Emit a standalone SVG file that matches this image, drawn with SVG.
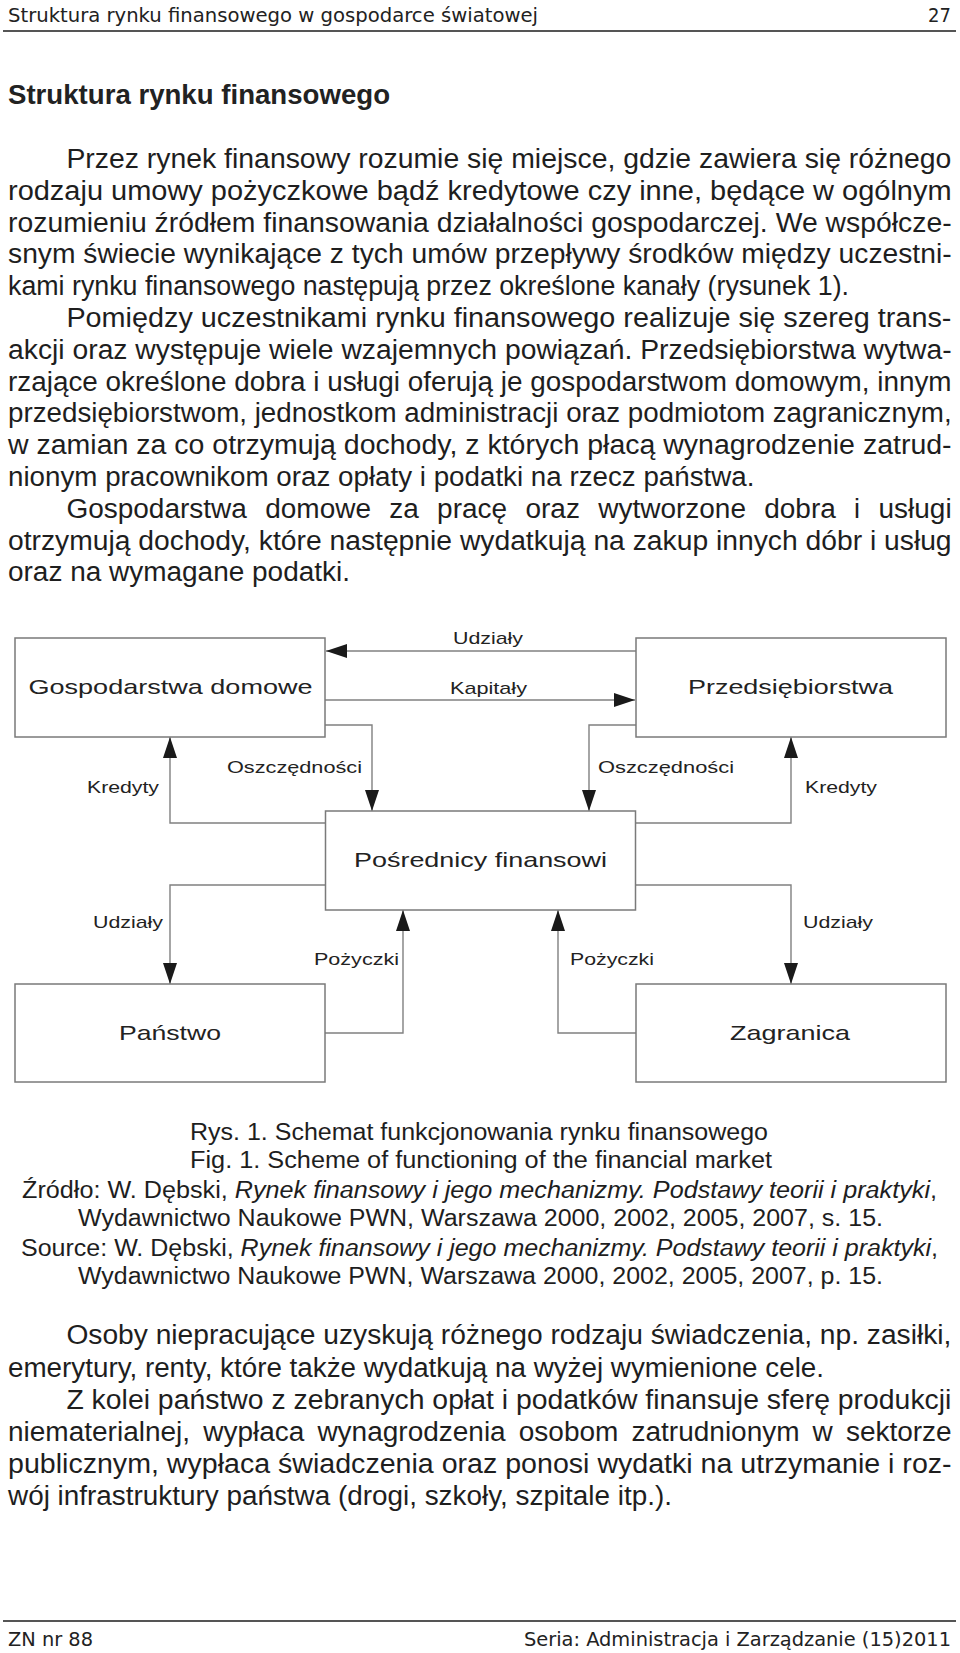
<svg xmlns="http://www.w3.org/2000/svg" width="960" height="1653" viewBox="0 0 960 1653">
<defs>
<style>
.hdr{font-family:"DejaVu Sans Condensed","DejaVu Sans",sans-serif;font-size:20px;fill:#222}
.h1{font-family:"Liberation Sans",Arial,sans-serif;font-weight:bold;font-size:27px;fill:#222}
.b{font-family:"Liberation Sans",Arial,sans-serif;font-size:27px;fill:#1e1e1e}
.cap{font-family:"Liberation Sans",Arial,sans-serif;font-size:23px;fill:#1e1e1e}
.box{fill:#fff;stroke:#7a7a7a;stroke-width:1.5}
.bl{font-family:"Liberation Sans",Arial,sans-serif;font-size:21px;fill:#222;text-anchor:middle}
.cl{font-family:"Liberation Sans",Arial,sans-serif;font-size:17px;fill:#222}
.con{fill:none;stroke:#808080;stroke-width:1.4}
</style>
<marker id="ah" markerUnits="userSpaceOnUse" markerWidth="21" markerHeight="14" refX="21" refY="7" orient="auto">
<path d="M0,0 L21,7 L0,14 z" fill="#1a1a1a"/>
</marker>
</defs>
<rect width="960" height="1653" fill="#fff"/>

<!-- header -->
<text class="hdr" x="8" y="22" textLength="530" lengthAdjust="spacingAndGlyphs">Struktura rynku finansowego w gospodarce światowej</text>
<text class="hdr" x="951" y="22" text-anchor="end">27</text>
<line x1="3" y1="31" x2="956" y2="31" stroke="#555" stroke-width="2"/>

<text class="h1" x="8" y="104" textLength="382" lengthAdjust="spacingAndGlyphs">Struktura rynku finansowego</text>

<!-- body 1 -->
<g id="body1">
<text class="b" x="66.4" y="168" textLength="885" lengthAdjust="spacingAndGlyphs">Przez rynek finansowy rozumie się miejsce, gdzie zawiera się różnego</text>
<text class="b" x="8" y="199.8" textLength="943.6" lengthAdjust="spacingAndGlyphs">rodzaju umowy pożyczkowe bądź kredytowe czy inne, będące w ogólnym</text>
<text class="b" x="8" y="231.6" textLength="943.6" lengthAdjust="spacingAndGlyphs">rozumieniu źródłem finansowania działalności gospodarczej. We współcze-</text>
<text class="b" x="8" y="263.4" textLength="943.6" lengthAdjust="spacingAndGlyphs">snym świecie wynikające z tych umów przepływy środków między uczestni-</text>
<text class="b" x="8" y="295.2" textLength="841" lengthAdjust="spacingAndGlyphs">kami rynku finansowego następują przez określone kanały (rysunek 1).</text>
<text class="b" x="66.4" y="327" textLength="885" lengthAdjust="spacingAndGlyphs">Pomiędzy uczestnikami rynku finansowego realizuje się szereg trans-</text>
<text class="b" x="8" y="358.8" textLength="943.6" lengthAdjust="spacingAndGlyphs">akcji oraz występuje wiele wzajemnych powiązań. Przedsiębiorstwa wytwa-</text>
<text class="b" x="8" y="390.6" textLength="943.6" lengthAdjust="spacingAndGlyphs">rzające określone dobra i usługi oferują je gospodarstwom domowym, innym</text>
<text class="b" x="8" y="422.4" textLength="943.6" lengthAdjust="spacingAndGlyphs">przedsiębiorstwom, jednostkom administracji oraz podmiotom zagranicznym,</text>
<text class="b" x="8" y="454.2" textLength="943.6" lengthAdjust="spacingAndGlyphs">w zamian za co otrzymują dochody, z których płacą wynagrodzenie zatrud-</text>
<text class="b" x="8" y="486" textLength="746.5" lengthAdjust="spacingAndGlyphs">nionym pracownikom oraz opłaty i podatki na rzecz państwa.</text>
<text class="b" y="517.8"><tspan x="66.4" textLength="180.5" lengthAdjust="spacingAndGlyphs">Gospodarstwa</tspan><tspan x="265.2" textLength="105.8" lengthAdjust="spacingAndGlyphs">domowe</tspan><tspan x="389.2" textLength="29.6" lengthAdjust="spacingAndGlyphs">za</tspan><tspan x="437.1" textLength="70" lengthAdjust="spacingAndGlyphs">pracę</tspan><tspan x="525.4" textLength="54.5" lengthAdjust="spacingAndGlyphs">oraz</tspan><tspan x="598.2" textLength="147.8" lengthAdjust="spacingAndGlyphs">wytworzone</tspan><tspan x="764.2" textLength="71.6" lengthAdjust="spacingAndGlyphs">dobra</tspan><tspan x="854.1">i</tspan><tspan x="878.5" textLength="73.1" lengthAdjust="spacingAndGlyphs">usługi</tspan></text>
<text class="b" x="8" y="549.6" textLength="943.6" lengthAdjust="spacingAndGlyphs">otrzymują dochody, które następnie wydatkują na zakup innych dóbr i usług</text>
<text class="b" x="8" y="581.4" textLength="342" lengthAdjust="spacingAndGlyphs">oraz na wymagane podatki.</text>
</g>

<!-- diagram connectors -->
<g id="connectors">
<polyline class="con" points="636,651 326,651" marker-end="url(#ah)"/>
<polyline class="con" points="325,700 635,700" marker-end="url(#ah)"/>
<polyline class="con" points="325,725 372,725 372,811" marker-end="url(#ah)"/>
<polyline class="con" points="325,823 170,823 170,737" marker-end="url(#ah)"/>
<polyline class="con" points="636,725 589,725 589,811" marker-end="url(#ah)"/>
<polyline class="con" points="636,823 791,823 791,737" marker-end="url(#ah)"/>
<polyline class="con" points="325,885 170,885 170,984" marker-end="url(#ah)"/>
<polyline class="con" points="325,1033 403,1033 403,910" marker-end="url(#ah)"/>
<polyline class="con" points="636,885 791,885 791,984" marker-end="url(#ah)"/>
<polyline class="con" points="636,1033 558,1033 558,910" marker-end="url(#ah)"/>
<text class="cl" x="453" y="644" textLength="70" lengthAdjust="spacingAndGlyphs">Udziały</text>
<text class="cl" x="450" y="694" textLength="77" lengthAdjust="spacingAndGlyphs">Kapitały</text>
<text class="cl" x="227" y="773" textLength="135" lengthAdjust="spacingAndGlyphs">Oszczędności</text>
<text class="cl" x="598" y="773" textLength="136" lengthAdjust="spacingAndGlyphs">Oszczędności</text>
<text class="cl" x="87" y="793" textLength="72" lengthAdjust="spacingAndGlyphs">Kredyty</text>
<text class="cl" x="805" y="793" textLength="72" lengthAdjust="spacingAndGlyphs">Kredyty</text>
<text class="cl" x="93" y="928" textLength="70" lengthAdjust="spacingAndGlyphs">Udziały</text>
<text class="cl" x="803" y="928" textLength="70" lengthAdjust="spacingAndGlyphs">Udziały</text>
<text class="cl" x="314" y="965" textLength="85" lengthAdjust="spacingAndGlyphs">Pożyczki</text>
<text class="cl" x="570" y="965" textLength="84" lengthAdjust="spacingAndGlyphs">Pożyczki</text>
</g>

<g id="gospodarstwa">
<rect class="box" x="15" y="638" width="310" height="99"/>
<text class="bl" x="170.5" y="694" textLength="284" lengthAdjust="spacingAndGlyphs">Gospodarstwa domowe</text>
</g>
<g id="przedsiebiorstwa">
<rect class="box" x="636" y="638" width="310" height="99"/>
<text class="bl" x="790.5" y="694" textLength="205" lengthAdjust="spacingAndGlyphs">Przedsiębiorstwa</text>
</g>
<g id="posrednicy">
<rect class="box" x="325.5" y="811" width="310" height="99"/>
<text class="bl" x="480.5" y="867" textLength="253" lengthAdjust="spacingAndGlyphs">Pośrednicy finansowi</text>
</g>
<g id="panstwo">
<rect class="box" x="15" y="984" width="310" height="98"/>
<text class="bl" x="170" y="1040" textLength="102" lengthAdjust="spacingAndGlyphs">Państwo</text>
</g>
<g id="zagranica">
<rect class="box" x="636" y="984" width="310" height="98"/>
<text class="bl" x="790" y="1040" textLength="120" lengthAdjust="spacingAndGlyphs">Zagranica</text>
</g>

<!-- captions -->
<g id="caption">
<text class="cap" x="190" y="1140" textLength="578" lengthAdjust="spacingAndGlyphs">Rys. 1. Schemat funkcjonowania rynku finansowego</text>
<text class="cap" x="190" y="1168" textLength="582" lengthAdjust="spacingAndGlyphs">Fig. 1.  Scheme of functioning of the financial market</text>
<text class="cap" x="22" y="1198" textLength="915" lengthAdjust="spacingAndGlyphs">Źródło: W. Dębski, <tspan font-style="italic">Rynek finansowy i jego mechanizmy. Podstawy teorii i praktyki</tspan>,</text>
<text class="cap" x="78" y="1226" textLength="805" lengthAdjust="spacingAndGlyphs">Wydawnictwo Naukowe PWN, Warszawa 2000, 2002, 2005, 2007, s. 15.</text>
<text class="cap" x="21" y="1256" textLength="917" lengthAdjust="spacingAndGlyphs">Source: W. Dębski, <tspan font-style="italic">Rynek finansowy i jego mechanizmy. Podstawy teorii i praktyki</tspan>,</text>
<text class="cap" x="78" y="1284" textLength="805" lengthAdjust="spacingAndGlyphs">Wydawnictwo Naukowe PWN, Warszawa 2000, 2002, 2005, 2007, p. 15.</text>
</g>

<!-- body 2 -->
<g id="body2">
<text class="b" x="66.4" y="1344" textLength="885" lengthAdjust="spacingAndGlyphs">Osoby niepracujące uzyskują różnego rodzaju świadczenia, np. zasiłki,</text>
<text class="b" x="8" y="1376.5" textLength="816" lengthAdjust="spacingAndGlyphs">emerytury, renty, które także wydatkują na wyżej wymienione cele.</text>
<text class="b" x="66.4" y="1409" textLength="885" lengthAdjust="spacingAndGlyphs">Z kolei państwo z zebranych opłat i podatków finansuje sferę produkcji</text>
<text class="b" y="1441"><tspan x="8" textLength="182.1" lengthAdjust="spacingAndGlyphs">niematerialnej,</tspan><tspan x="203.2" textLength="101.1" lengthAdjust="spacingAndGlyphs">wypłaca</tspan><tspan x="317.4" textLength="188.3" lengthAdjust="spacingAndGlyphs">wynagrodzenia</tspan><tspan x="518.8" textLength="99.6" lengthAdjust="spacingAndGlyphs">osobom</tspan><tspan x="631.5" textLength="168.1" lengthAdjust="spacingAndGlyphs">zatrudnionym</tspan><tspan x="812.6" textLength="20.2" lengthAdjust="spacingAndGlyphs">w</tspan><tspan x="845.9" textLength="105.8" lengthAdjust="spacingAndGlyphs">sektorze</tspan></text>
<text class="b" x="8" y="1473" textLength="943.6" lengthAdjust="spacingAndGlyphs">publicznym, wypłaca świadczenia oraz ponosi wydatki na utrzymanie i roz-</text>
<text class="b" x="8" y="1504.5" textLength="664" lengthAdjust="spacingAndGlyphs">wój infrastruktury państwa (drogi, szkoły, szpitale itp.).</text>
</g>

<!-- footer -->
<line x1="3" y1="1621" x2="956" y2="1621" stroke="#555" stroke-width="2"/>
<text class="hdr" x="8" y="1646" textLength="85" lengthAdjust="spacingAndGlyphs">ZN nr 88</text>
<text class="hdr" x="524" y="1646" textLength="427" lengthAdjust="spacingAndGlyphs">Seria: Administracja i Zarządzanie (15)2011</text>
</svg>
